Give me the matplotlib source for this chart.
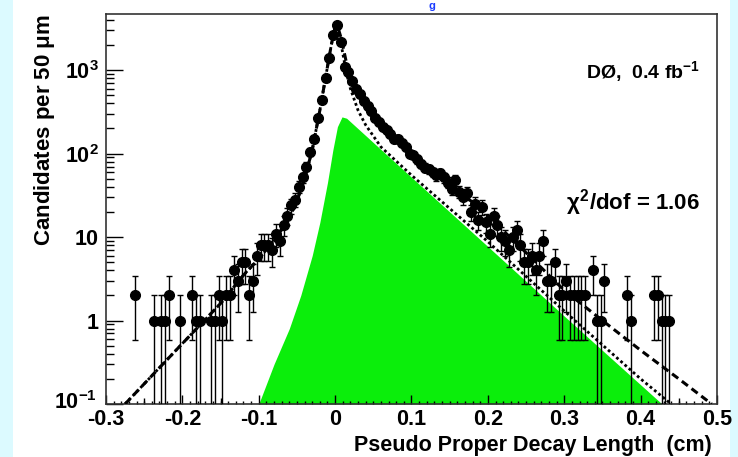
import numpy as np
import matplotlib
matplotlib.use("Agg")
import matplotlib.pyplot as plt
from matplotlib.patches import Rectangle
from matplotlib.transforms import ScaledTranslation

plt.rcParams['font.family'] = ['Liberation Sans', 'DejaVu Sans']
plt.rcParams['font.weight'] = 'bold'
plt.rcParams['mathtext.fontset'] = 'custom'
plt.rcParams['mathtext.rm'] = 'Liberation Sans:bold'
plt.rcParams['mathtext.it'] = 'Liberation Sans:bold'
plt.rcParams['mathtext.bf'] = 'Liberation Sans:bold'
plt.rcParams['axes.unicode_minus'] = False

# data points: bin centres (cm) and candidates per 50 um
bin_x = [-0.2625, -0.2375, -0.2275, -0.2225, -0.2175, -0.2025, -0.1875, -0.1825,
         -0.1775, -0.1625, -0.1575, -0.1525, -0.1475, -0.1425, -0.1375, -0.1325,
         -0.1275, -0.1225, -0.1175, -0.1125, -0.1075, -0.1025, -0.0975, -0.0925,
         -0.0875, -0.0825, -0.0775, -0.0725, -0.0675, -0.0625, -0.0575, -0.0525,
         -0.0475, -0.0425, -0.0375, -0.0325, -0.0275, -0.0225, -0.0175, -0.0125,
         -0.0075, -0.0025, 0.0025, 0.0075, 0.0125, 0.0175, 0.0225, 0.0275,
         0.0325, 0.0375, 0.0425, 0.0475, 0.0525, 0.0575, 0.0625, 0.0675,
         0.0725, 0.0775, 0.0825, 0.0875, 0.0925, 0.0975, 0.1025, 0.1075,
         0.1125, 0.1175, 0.1225, 0.1275, 0.1325, 0.1375, 0.1425, 0.1475,
         0.1525, 0.1575, 0.1625, 0.1675, 0.1725, 0.1775, 0.1825, 0.1875,
         0.1925, 0.1975, 0.2025, 0.2075, 0.2125, 0.2175, 0.2225, 0.2275,
         0.2325, 0.2375, 0.2425, 0.2475, 0.2525, 0.2575, 0.2625, 0.2675,
         0.2725, 0.2775, 0.2825, 0.2875, 0.2925, 0.2975, 0.3025, 0.3075,
         0.3125, 0.3175, 0.3225, 0.3275, 0.3375, 0.3425, 0.3475, 0.3525,
         0.3825, 0.3875, 0.4175, 0.4225, 0.4275, 0.4325, 0.4375]
counts = [2, 1, 1, 1, 2, 1, 2, 1,
          1, 1, 1, 2, 1, 2, 2, 4,
          3, 5, 5, 2, 3, 6, 8, 8,
          8, 7, 11, 9, 14, 18, 24, 28,
          40, 52, 70, 105, 150, 270, 440, 800,
          1400, 2600, 3500, 2200, 1100, 950, 750, 600,
          520, 430, 370, 320, 270, 240, 210, 190,
          170, 150, 150, 135, 120, 100, 95, 85,
          75, 68, 65, 60, 55, 58, 52, 45,
          38, 48, 35, 30, 34, 20, 25, 16,
          23, 15, 11, 18, 14, 10, 9, 7,
          10, 12, 8, 5, 5, 6, 4, 6,
          9, 3, 3, 5, 2, 2, 3, 2,
          2, 2, 2, 2, 4, 1, 1, 3,
          2, 1, 2, 2, 1, 1, 1]

# fit curves (x in cm, candidates)
total_x = [-0.275, -0.2, -0.15, -0.12, -0.1, -0.08, -0.06, -0.05, -0.04, -0.03,
           -0.02, -0.01, -0.005, 0.0, 0.003, 0.008, 0.015, 0.02, 0.03, 0.05,
           0.075, 0.1, 0.15, 0.2, 0.25, 0.3, 0.35, 0.4, 0.45, 0.493]
total_y = [0.1, 0.53, 1.6, 3.5, 5.5, 9, 17, 27, 50, 110,
           330, 1100, 2000, 3300, 3400, 2400, 1200, 850, 560, 330,
           170, 100, 45, 18, 6.5, 2.3, 1.0, 0.44, 0.2, 0.1]
prompt_x = [-0.275, -0.2, -0.15, -0.12, -0.1, -0.08, -0.06, -0.05, -0.04, -0.03,
            -0.02, -0.01, -0.005, 0.0, 0.003, 0.008, 0.015, 0.02, 0.03, 0.04,
            0.06, 0.1, 0.2, 0.3, 0.4, 0.44]
prompt_y = [0.1, 0.53, 1.6, 3.5, 5.5, 9, 17, 27, 50, 110,
            330, 1100, 2000, 3300, 3400, 2000, 900, 600, 330, 220,
            120, 55, 8.8, 1.3, 0.2, 0.1]
signal_x = [-0.1, -0.08, -0.06, -0.045, -0.03, -0.02, -0.01, -0.003, 0.003, 0.009,
            0.015, 0.1, 0.2, 0.3, 0.428]
signal_y = [0.1, 0.3, 0.8, 2, 6, 15, 45, 110, 210, 275,
            265, 52, 7.7, 1.13, 0.1]

fig = plt.figure(figsize=(7.38, 4.57), dpi=100)
fig.patch.set_facecolor('#dcfaff')
fig.add_artist(Rectangle((13 / 738, 0), (730 - 13) / 738, 1, transform=fig.transFigure,
                         facecolor='white', edgecolor='none', zorder=0))
fig.text(432 / 738, 1 - 1 / 457, 'g', color='#1a3cff', fontsize=8, ha='center', va='top')

ax = fig.add_axes([106 / 738, (457 - 404) / 457, 611 / 738, 390 / 457])
ax.set_yscale('log')
ax.set_xlim(-0.3, 0.5)
ax.set_ylim(0.1, 4700)

ax.fill_between(signal_x, signal_y, 0.1, color='#0bee0b', linewidth=0, zorder=1)
ax.plot(prompt_x, prompt_y, color='black', linestyle=(0, (1, 1)), linewidth=2, zorder=2)
ax.plot(total_x, total_y, color='black', linestyle=(0, (2.5, 1.5)), linewidth=2.2, zorder=3)

cnt = np.array(counts, dtype=float)
err = np.sqrt(cnt)
lower = np.minimum(err, cnt - 1e-3)
ax.errorbar(bin_x, cnt, yerr=[lower, err], fmt='o', color='black', markersize=7,
            elinewidth=1, capsize=2.5, capthick=1, zorder=4)

for s in ax.spines.values():
    s.set_color('#333333')
    s.set_linewidth(1.2)

ax.set_xticks(np.arange(-0.3, 0.51, 0.1))
ax.set_xticklabels(['-0.3', '-0.2', '-0.1', '0', '0.1', '0.2', '0.3', '0.4', '0.5'])
ax.set_xticks(np.arange(-0.3, 0.501, 0.01), minor=True)
ax.set_yticks([0.1, 1, 10, 100, 1000])
ax.set_yticklabels([r'$10^{-1}$', '1', '10', r'$10^{2}$', r'$10^{3}$'])
ax.tick_params(axis='both', which='both', direction='in', top=False, right=False,
               labelsize=15.5, width=1)
ax.tick_params(axis='y', which='major', length=12, pad=5)
ax.tick_params(axis='y', which='minor', length=6)
ax.tick_params(axis='x', which='major', length=6.5, pad=3.5)
ax.tick_params(axis='x', which='minor', length=2.5)
sec = ax.secondary_xaxis('bottom')
sec.set_xticks(np.arange(-0.25, 0.5, 0.1))
sec.tick_params(direction='in', length=4.3, width=1, labelbottom=False)
sec.spines['bottom'].set_visible(False)

# lift the lowest y label a little, as in the original where it sits above "-0.3"
lab = ax.get_yticklabels()[0]
lab.set_transform(lab.get_transform() + ScaledTranslation(-2 / 100, 4 / 100, fig.dpi_scale_trans))

fig.text(712 / 738, 1 - 445 / 457, 'Pseudo Proper Decay Length  (cm)', fontsize=15.5,
         ha='right', va='center')
fig.text(45 / 738, 1 - 14 / 457, 'Candidates per 50 $\\mathregular{\\mu}$m', fontsize=16,
         rotation=90, ha='center', va='top')
fig.text(700 / 738, 1 - 72 / 457, 'DØ,  0.4 fb$^{-1}$', fontsize=14, ha='right', va='center')
fig.text(700 / 738, 1 - 203 / 457, r'$\chi^{2}$/dof = 1.06', fontsize=16, ha='right',
         va='center')

fig.savefig('out.png', dpi=100, facecolor=fig.get_facecolor())
